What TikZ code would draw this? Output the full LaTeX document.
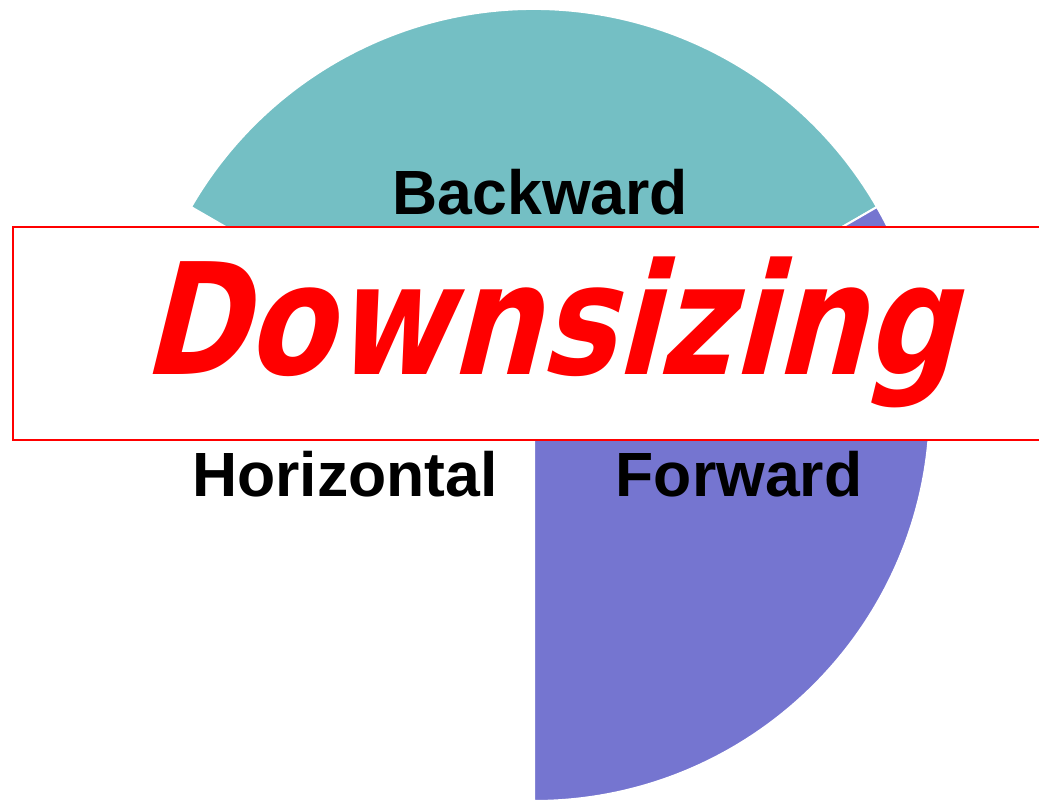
\documentclass[tikz,border=0pt]{standalone}
\usepackage{fontspec}
\usepackage{graphicx}
\setmainfont{Liberation Sans}
\newfontfamily\dsfont[BoldFeatures={FakeSlant=0.3}]{DejaVu Sans}
\definecolor{tealslice}{RGB}{116,191,196}
\definecolor{purpleslice}{RGB}{117,117,208}
\definecolor{boxred}{RGB}{255,0,0}
\tikzset{
  slice/.style={draw=white, line width=2pt, line join=miter},
  label/.style={font=\fontsize{62.5}{62.5}\selectfont\bfseries, text=black, inner sep=0pt, anchor=base},
  banner/.style={draw=boxred, line width=2pt, fill=white},
  bannertext/.style={text=boxred, inner sep=0pt, anchor=base}
}
\begin{document}
\begin{tikzpicture}[x=1pt,y=1pt]
\useasboundingbox (0,0) rectangle (1039,800);
\clip (0,0) rectangle (1039,800);
\coordinate (c) at (534,395);
% pie slices
\fill[white] (c) -- ++(150:396) arc (150:270:396) -- cycle;
\filldraw[slice, fill=tealslice] (c) -- ++(30:396) arc (30:150:396) -- cycle;
\filldraw[slice, fill=purpleslice] (c) -- ++(-90:396) arc (-90:30:396) -- cycle;
% banner
\node[banner, minimum width=1040pt, minimum height=213pt, anchor=south west, inner sep=0pt] (box) at (12,359) {};
\node[bannertext] (ds) at (548,425) {\resizebox*{813pt}{151pt}{\dsfont\bfseries Downsizing}};
% labels
\node[label] (back) at (540.5,585) {Backward};
\node[label] (hor) at (345,303) {Horizontal};
\node[label] (fwd) at (739,303) {Forward};
\end{tikzpicture}
\end{document}
